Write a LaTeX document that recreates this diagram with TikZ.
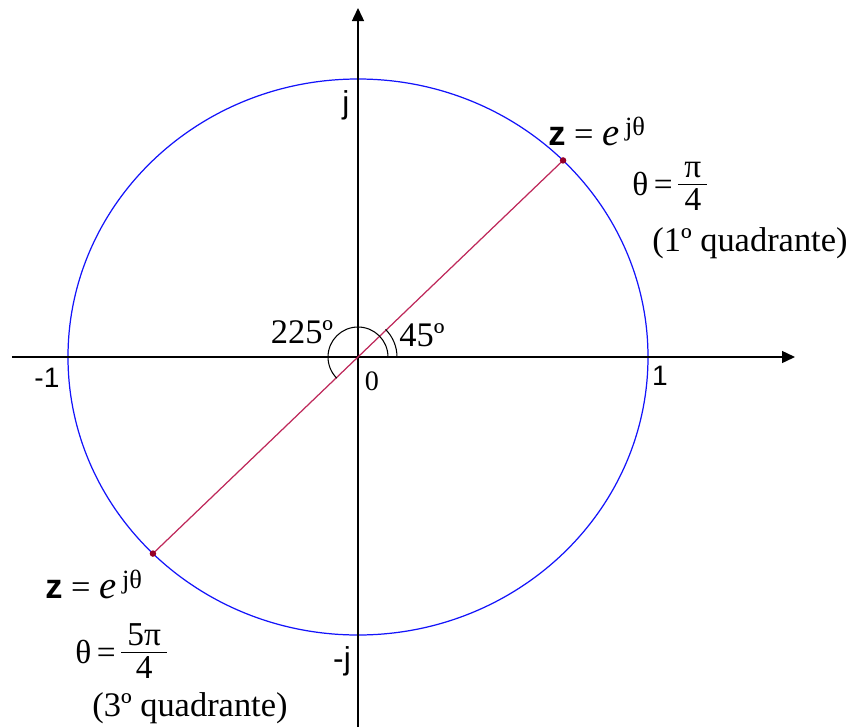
\documentclass[tikz,border=0pt]{standalone}
\usepackage{fontspec}
\setmainfont{Liberation Serif}
\setsansfont{Liberation Sans}
\usetikzlibrary{arrows.meta}
\definecolor{CircBlue}{RGB}{20,20,250}
\definecolor{RadRed}{RGB}{190,40,90}
\definecolor{DotRed}{RGB}{150,0,40}
\newcommand{\zexp}{\textsf{\bfseries z} = {\fontsize{22}{22}\selectfont\itshape e}\,\raisebox{0.2cm}{\fontsize{15}{15}\selectfont jθ}}
\newcommand{\frc}[2]{{\renewcommand{\arraystretch}{0.8}\begin{tabular}[c]{@{\hspace{3.5pt}}c@{\hspace{3.5pt}}}#1\\[-2pt]\hline\rule{0pt}{15pt}#2\end{tabular}}}

\begin{document}
\begin{tikzpicture}[
  axis/.style={line width=0.8pt,-{Triangle[length=0.26cm,width=0.24cm]}},
  unit/.style={font=\fontsize{16}{18}\sffamily,inner sep=0pt},
  txt/.style={font=\fontsize{19.6}{23}\selectfont,inner sep=0pt},
  frac/.style={font=\fontsize{19}{22}\selectfont,inner sep=0pt},
  radius/.style={RadRed,line width=0.7pt}
]
  \useasboundingbox (-7.16,-7.4) rectangle (9.78,7.14);
  \coordinate (o) at (0,0);
  \coordinate (xs) at (-6.92,0);
  \coordinate (xe) at (8.74,0);
  \coordinate (ys) at (0,-7.4);
  \coordinate (ye) at (0,6.98);
  \coordinate (p1) at (45:5.8cm and 5.56cm);
  \coordinate (p2) at (225:5.8cm and 5.56cm);

  \draw[CircBlue,line width=0.7pt] (o) ellipse (5.8cm and 5.56cm);
  \draw[axis] (xs) -- (xe);
  \draw[axis] (ys) -- (ye);
  \draw[radius] (p2) -- (p1);
  \fill[DotRed] (p1) circle (0.065);
  \fill[DotRed] (p2) circle (0.065);

  % angle marks
  \draw[line width=0.6pt] (0.6,0) arc (0:225:0.6);
  \draw[line width=0.6pt] (0.78,0) arc (0:45:0.78);

  \node[unit] (m1) at (-6.22,-0.42) {-1};
  \node[unit] (u1) at (6.04,-0.38) {1};
  \node[unit,font=\fontsize{18}{20}\sffamily] (uj) at (-0.24,5.04) {j};
  \node[unit,font=\fontsize{18}{20}\sffamily] (mj) at (-0.32,-6.08) {-j};
  \node[txt,font=\fontsize{16}{18}\selectfont] (zero) at (0.28,-0.48) {0};
  \node[txt] (a225) at (-1.12,0.5) {225º};
  \node[txt] (a45) at (1.28,0.44) {45º};

  \node[txt,anchor=base west] (z1) at (3.8,4.24) {\zexp};
  \node[frac,anchor=west] (t1) at (5.48,3.38) {θ\,=\,\frc{π}{4}};
  \node[txt,anchor=west] (q1) at (5.88,2.28) {(1º quadrante)};

  \node[txt,anchor=base west] (z2) at (-6.26,-4.82) {\zexp};
  \node[frac,anchor=west] (t2) at (-5.66,-5.98) {θ\,=\,\frc{5π}{4}};
  \node[txt,anchor=west] (q2) at (-5.32,-7.02) {(3º quadrante)};
\end{tikzpicture}
\end{document}
